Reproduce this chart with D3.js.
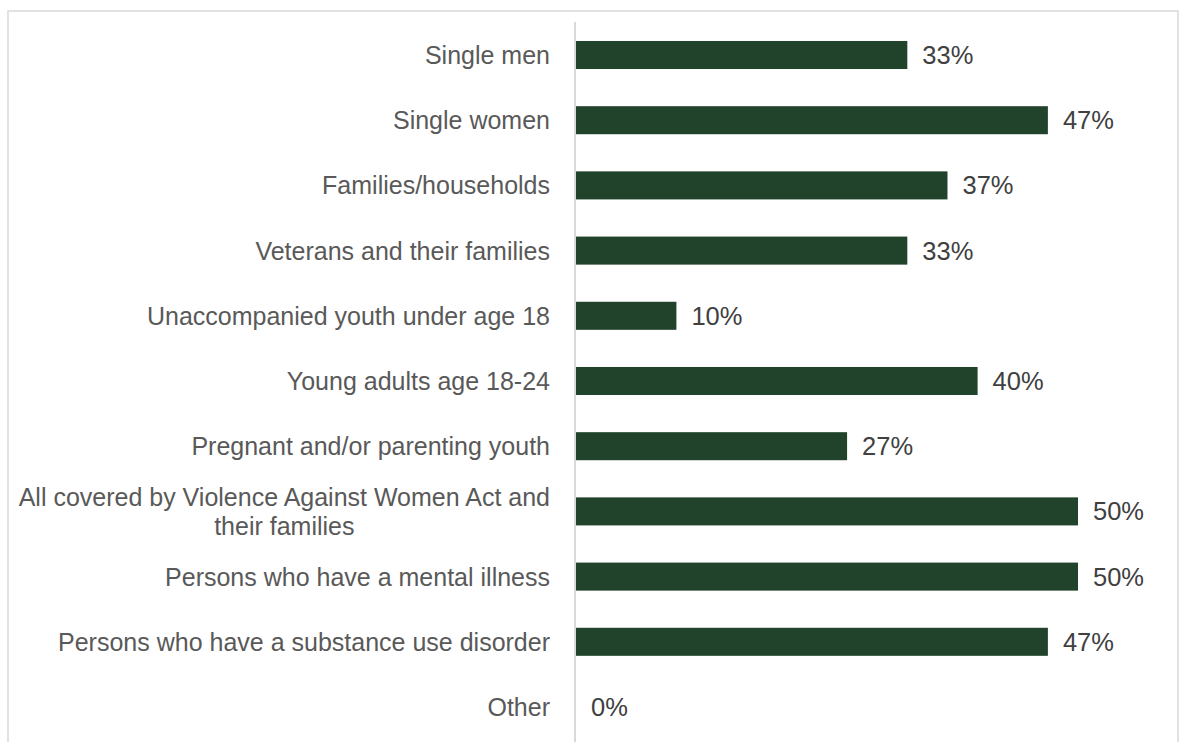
<!DOCTYPE html>
<html>
<head>
<meta charset="utf-8">
<script src="https://cdn.jsdelivr.net/npm/d3@7"></script>
<style>
  html, body { margin: 0; padding: 0; background: #ffffff; }
  svg { display: block; }
</style>
</head>
<body>
<svg id="chart" width="1180" height="742"></svg>
<script>
// Populations served (share of respondents)
const categories = [
  "Single men",
  "Single women",
  "Families/households",
  "Veterans and their families",
  "Unaccompanied youth under age 18",
  "Young adults age 18-24",
  "Pregnant and/or parenting youth",
  "All covered by Violence Against Women Act and their families",
  "Persons who have a mental illness",
  "Persons who have a substance use disorder",
  "Other"
];
const values = [33, 47, 37, 33, 10, 40, 27, 50, 50, 47, 0];
// Wrapped label lines for long categories
const labelLines = {
  "All covered by Violence Against Women Act and their families":
    ["All covered by Violence Against Women Act and", "their families"]
};

const svg = d3.select("#chart");
const W = 1180, H = 742;
const axisX = 576, xMax = 1078;
const labelFont = "'Liberation Sans', Arial, sans-serif";

// Outer frame
svg.append("rect")
  .attr("x", 8).attr("y", 11)
  .attr("width", 1170).attr("height", 760)
  .attr("fill", "none")
  .attr("stroke", "#d9d9d9")
  .attr("stroke-width", 1.5);

const x = d3.scaleLinear().domain([0, 50]).range([axisX, xMax]);
const y = d3.scaleBand().domain(categories).range([22.4, 739.6]).paddingInner(0.57).paddingOuter(0.285);

// Bars
svg.append("g").selectAll("rect")
  .data(categories)
  .join("rect")
  .attr("x", x(0))
  .attr("y", d => y(d))
  .attr("width", (d, i) => x(values[i]) - x(0))
  .attr("height", y.bandwidth())
  .attr("fill", "#21422b");

// Vertical category axis line
svg.append("line")
  .attr("x1", axisX - 1).attr("x2", axisX - 1)
  .attr("y1", 22).attr("y2", H)
  .attr("stroke", "#d9d9d9")
  .attr("stroke-width", 2);

// Category labels
const labelX = 550;
const lab = svg.append("g")
  .attr("font-family", labelFont)
  .attr("font-size", 25)
  .attr("fill", "#595959");

categories.forEach(c => {
  const cy = y(c) + y.bandwidth() / 2;
  const lines = labelLines[c] || [c];
  const lh = 29;
  const t = lab.append("text")
    .attr("text-anchor", lines.length > 1 ? "middle" : "end")
    .attr("dominant-baseline", "central");
  lines.forEach((ln, k) => {
    t.append("tspan")
      .attr("y", cy + (k - (lines.length - 1) / 2) * lh)
      .text(ln);
  });
  if (lines.length > 1) {
    const w = t.select("tspan").node().getComputedTextLength();
    t.selectAll("tspan").attr("x", labelX - w / 2);
  } else {
    t.selectAll("tspan").attr("x", labelX);
  }
});

// Value labels
svg.append("g")
  .attr("font-family", labelFont)
  .attr("font-size", 25.5)
  .attr("fill", "#404040")
  .selectAll("text")
  .data(categories)
  .join("text")
  .attr("x", (d, i) => x(values[i]) + 15)
  .attr("y", d => y(d) + y.bandwidth() / 2)
  .attr("dominant-baseline", "central")
  .text((d, i) => values[i] + "%");
</script>
</body>
</html>
